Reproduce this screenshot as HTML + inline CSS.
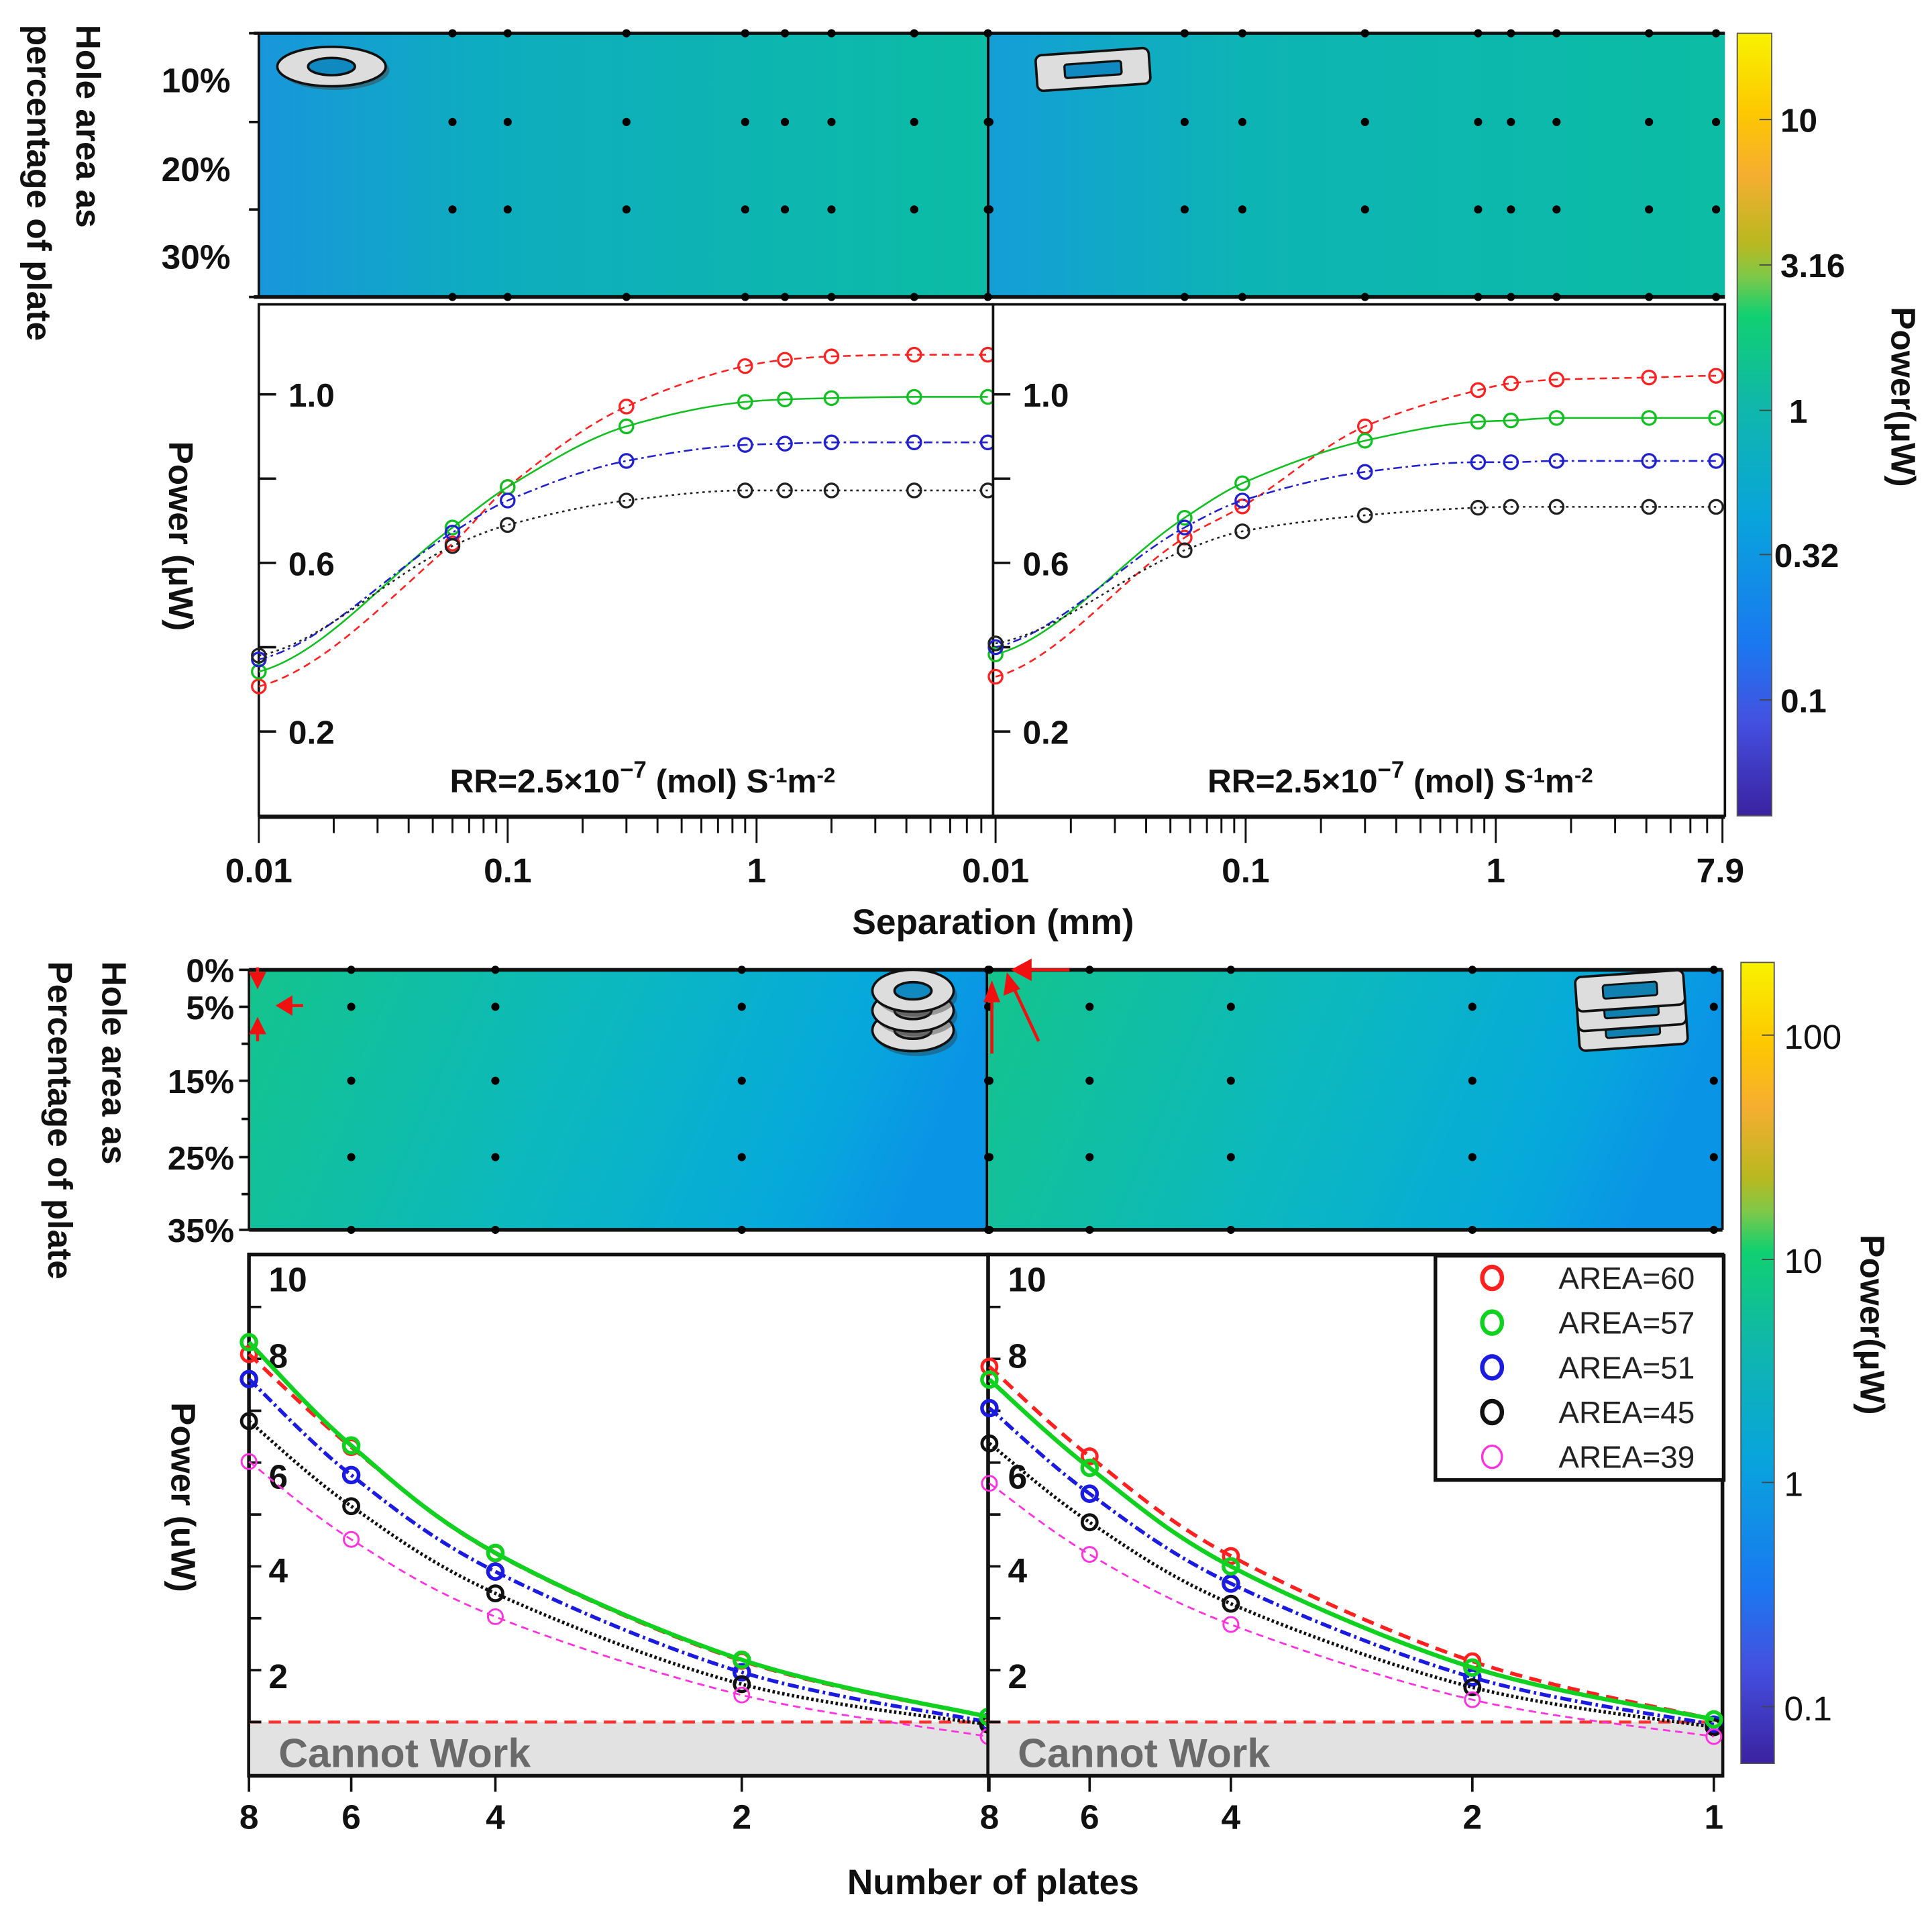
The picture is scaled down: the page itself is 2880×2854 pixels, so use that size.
<!DOCTYPE html>
<html><head><meta charset="utf-8"><style>
html,body{margin:0;padding:0;background:#fff;}
svg{display:block;}
text{font-family:"Liberation Sans",sans-serif;font-weight:bold;}
text.nb{font-weight:normal;}
</style></head><body>
<svg id="fig" xmlns="http://www.w3.org/2000/svg" width="2880" height="2854" viewBox="0 0 1568 1554">
<defs>
<linearGradient id="cbar" x1="0" y1="0" x2="0" y2="1">
<stop offset="0" stop-color="#f8f200"/><stop offset="0.1" stop-color="#fdc800"/><stop offset="0.18" stop-color="#f6ae30"/>
<stop offset="0.27" stop-color="#b8b820"/><stop offset="0.31" stop-color="#80c848"/><stop offset="0.36" stop-color="#10d070"/>
<stop offset="0.47" stop-color="#10b8a8"/><stop offset="0.62" stop-color="#08a4dc"/><stop offset="0.78" stop-color="#1a78f0"/>
<stop offset="0.88" stop-color="#4450e0"/><stop offset="1" stop-color="#3a22a0"/>
</linearGradient>
<linearGradient id="hmTop" x1="0" y1="0" x2="1" y2="0">
<stop offset="0" stop-color="#1896dc"/><stop offset="0.3" stop-color="#0eacc0"/><stop offset="1" stop-color="#0cbca4"/>
</linearGradient>
<linearGradient id="hmTopR" x1="0" y1="0" x2="1" y2="0">
<stop offset="0" stop-color="#149ed8"/><stop offset="0.35" stop-color="#0db4b4"/><stop offset="1" stop-color="#0cbca4"/>
</linearGradient>
<linearGradient id="hmBot" x1="0" y1="0" x2="1" y2="0.15">
<stop offset="0" stop-color="#14c48c"/><stop offset="0.5" stop-color="#0cb8c0"/><stop offset="0.85" stop-color="#06a8dc"/><stop offset="1" stop-color="#0a94e6"/>
</linearGradient>
</defs>
<g id="layer"></g>
</svg>
<script>
// ---------- data ----------
const topXLeft = [0.01,0.06,0.1,0.3,0.9,1.3,2,4.3,8.5];
const topXRight = [0.01,0.057,0.097,0.3,0.85,1.15,1.75,4.1,7.6];
const topLeftRed = [0.307,0.646,0.78,0.971,1.067,1.082,1.09,1.094,1.094];
const topLeftGreen = [0.342,0.684,0.78,0.924,0.982,0.988,0.991,0.994,0.994];
const topLeftBlue = [0.371,0.672,0.748,0.842,0.88,0.883,0.886,0.886,0.886];
const topLeftBlack = [0.38,0.64,0.69,0.748,0.772,0.772,0.772,0.772,0.772];
const topRightRed = [0.33,0.66,0.734,0.924,1.01,1.026,1.035,1.04,1.044];
const topRightGreen = [0.383,0.707,0.789,0.89,0.935,0.938,0.944,0.944,0.944];
const topRightBlue = [0.40,0.684,0.748,0.816,0.839,0.839,0.842,0.842,0.842];
const topRightBlack = [0.409,0.63,0.675,0.713,0.731,0.733,0.733,0.733,0.733];
const topYTicks = [0.2,0.6,1.0];
const topYTickLabels = ["0.2","0.6","1.0"];
const plates = [8,6,4,2,1];
const botLeftRed = [8.09,6.3,4.25,2.18,1.1];
const botLeftGreen = [8.32,6.33,4.26,2.2,1.1];
const botLeftBlue = [7.61,5.76,3.9,1.96,1.0];
const botLeftBlack = [6.8,5.16,3.48,1.73,0.95];
const botLeftPink = [6.02,4.52,3.03,1.52,0.72];
const botRightRed = [7.85,6.12,4.2,2.17,1.05];
const botRightGreen = [7.6,5.9,4.0,2.05,1.05];
const botRightBlue = [7.05,5.4,3.67,1.86,0.95];
const botRightBlack = [6.37,4.85,3.28,1.67,0.9];
const botRightPink = [5.6,4.23,2.88,1.43,0.72];
const botYTickLabels = ["2","4","6","8","10"];
const legendLabels = ["AREA=60","AREA=57","AREA=51","AREA=45","AREA=39"];
const cbarTopLabels = ["10","3.16","1","0.32","0.1"];
const cbarBotLabels = ["100","10","1","0.1"];
const hmTopRows = ["10%","20%","30%"];
const hmBotRows = ["0%","5%","15%","25%","35%"];
const hmBotRowVals = [0,5,15,25,35];

// ---------- helpers ----------
const NS="http://www.w3.org/2000/svg";
const L=document.getElementById('layer');
function mk(tag,attrs,parent){const e=document.createElementNS(NS,tag);for(const k in attrs)e.setAttribute(k,attrs[k]);(parent||L).appendChild(e);return e;}
function txt(s,x,y,size,attrs,parent){const e=mk('text',Object.assign({x:x,y:y,'font-size':size,fill:'#111'},attrs||{}),parent);e.textContent=s;return e;}
function smooth(pts){let d='M'+pts[0][0]+','+pts[0][1];for(let i=0;i<pts.length-1;i++){const p0=pts[i-1]||pts[i],p1=pts[i],p2=pts[i+1],p3=pts[i+2]||p2;
const c1=[p1[0]+(p2[0]-p0[0])/6,p1[1]+(p2[1]-p0[1])/6],c2=[p2[0]-(p3[0]-p1[0])/6,p2[1]-(p3[1]-p1[1])/6];
d+=' C'+c1[0]+','+c1[1]+' '+c2[0]+','+c2[1]+' '+p2[0]+','+p2[1];}return d;}
// S-shaped hermite: flat-ish start tangent
function sCurve(pts){const n=pts.length;const m=[];
  for(let i=0;i<n;i++){if(i==0){const s=(pts[1][1]-pts[0][1])/(pts[1][0]-pts[0][0]);m.push(s*0.35);}
    else if(i==n-1){m.push(0);}
    else{const s1=(pts[i][1]-pts[i-1][1])/(pts[i][0]-pts[i-1][0]),s2=(pts[i+1][1]-pts[i][1])/(pts[i+1][0]-pts[i][0]);
      m.push(s1*s2<=0?0:(2*s1*s2/(s1+s2))*1.0);}}
  // boost second point tangent to make sigmoid
  let d='M'+pts[0][0]+','+pts[0][1];
  for(let i=0;i<n-1;i++){const h=pts[i+1][0]-pts[i][0];
    d+=' C'+(pts[i][0]+h/3)+','+(pts[i][1]+m[i]*h/3)+' '+(pts[i+1][0]-h/3)+','+(pts[i+1][1]-m[i+1]*h/3)+' '+pts[i+1][0]+','+pts[i+1][1];}
  return d;}

// ---------- top scales ----------
const topY = v => 662 - v*342;
const topXL = x => 210 + 202*Math.log10(x/0.01);
const topXR = x => 808 + 203*Math.log10(x/0.01);

let e;
e=mk('rect',{x:210,y:27,width:592,height:214,fill:'url(#hmTop)'});

e=mk('rect',{x:802,y:27,width:598,height:214,fill:'url(#hmTopR)'});

mk('line',{x1:802,y1:27,x2:802,y2:241,stroke:'#000','stroke-width':2});
mk('line',{x1:206,y1:27,x2:1400,y2:27,stroke:'#111','stroke-width':2.5});
mk('line',{x1:206,y1:241,x2:1400,y2:241,stroke:'#111','stroke-width':3});
mk('line',{x1:210,y1:27,x2:210,y2:241,stroke:'#111','stroke-width':2});
[27,99,170,241].forEach(yy=>{mk('line',{x1:202,y1:yy,x2:210,y2:yy,stroke:'#111','stroke-width':2});});
[65,137,208].forEach((yy,i)=>{e=txt(hmTopRows[i],187,yy+10,28,{'text-anchor':'end'});});
const dotRows=[27,99,170,241];
topXLeft.slice(1).forEach((x,i)=>{dotRows.forEach(yy=>{e=mk('circle',{cx:topXL(x),cy:yy,r:3.3,fill:'#000'});});});
topXRight.slice(1).forEach((x,i)=>{dotRows.forEach(yy=>{e=mk('circle',{cx:Math.min(topXR(x),1398),cy:yy,r:3.3,fill:'#000'});});});
[99,170].forEach(yy=>mk('circle',{cx:803,cy:yy,r:3.3,fill:'#000'}));
let g=mk('g',{});
mk('ellipse',{cx:272,cy:57,rx:44,ry:16,fill:'#444',opacity:0.5},g);
mk('ellipse',{cx:269,cy:54,rx:44,ry:16,fill:'#ddd',stroke:'#111','stroke-width':2},g);
mk('ellipse',{cx:269,cy:54,rx:19,ry:7,fill:'#1088c0',stroke:'#111','stroke-width':2},g);
g=mk('g',{transform:'rotate(-4 885 55)'});
mk('rect',{x:841,y:42,width:92,height:29,rx:5,fill:'#ddd',stroke:'#111','stroke-width':2},g);
mk('rect',{x:864,y:51,width:46,height:11,rx:2,fill:'#1088c0',stroke:'#111','stroke-width':1.8},g);

function topPanel(x0,x1,xs,xf,series,side){
  e=mk('rect',{x:x0,y:247,width:x1-x0,height:415,fill:'#fff',stroke:'#111','stroke-width':2});
  
  topYTicks.forEach((v,i)=>{mk('line',{x1:x0,y1:topY(v),x2:x0+14,y2:topY(v),stroke:'#111','stroke-width':2});
    e=txt(topYTickLabels[i],x0+24,topY(v)+10,27);});
  mk('line',{x1:x0,y1:topY(0.8),x2:x0+14,y2:topY(0.8),stroke:'#111','stroke-width':2});
  mk('line',{x1:x0,y1:topY(0.4),x2:x0+14,y2:topY(0.4),stroke:'#111','stroke-width':2});
  const styles=[['#ff2020','6,4'],['#10c020',''],['#2020d0','7,3,2,3'],['#222','2,3']];
  const names=['red','green','blue','black'];
  series.forEach((ys,k)=>{const pts=xs.map((x,i)=>[xf(x),topY(ys[i])]);
    e=mk('path',{d:sCurve(pts),fill:'none',stroke:styles[k][0],'stroke-width':1.4,'stroke-dasharray':styles[k][1]});
    
    pts.forEach(p=>{e=mk('circle',{cx:p[0],cy:p[1],r:5.5,fill:'none',stroke:styles[k][0],'stroke-width':1.8});});});
}
topPanel(210,806,topXLeft,topXL,[topLeftRed,topLeftGreen,topLeftBlue,topLeftBlack],'left');
topPanel(806,1400,topXRight,topXR,[topRightRed,topRightGreen,topRightBlue,topRightBlack],'right');
const rrHTML='RR=2.5×10<tspan dy="-12" font-size="19">−7</tspan><tspan dy="12"> (mol) S</tspan><tspan dy="-8" font-size="17">-1</tspan><tspan dy="8">m</tspan><tspan dy="-8" font-size="17">-2</tspan>';
e=txt('',365,643,27);e.innerHTML=rrHTML;
e=txt('',980,643,27);e.innerHTML=rrHTML;
mk('line',{x1:210,y1:663,x2:1400,y2:663,stroke:'#111','stroke-width':3});
function logTicks(xf,maxv){[0.01,0.1,1].forEach(d=>{for(let m=1;m<10;m++){const v=d*m;if(v>maxv)return;const xx=xf(v);mk('line',{x1:xx,y1:663,x2:xx,y2:m==1?684:676,stroke:'#111','stroke-width':1.6});}});}
logTicks(topXL,8.6);logTicks(topXR,7.95);
mk('line',{x1:1398,y1:663,x2:1398,y2:684,stroke:'#111','stroke-width':1.6});
const xlabs=[['0.01',topXL(0.01)],['0.1',topXL(0.1)],['1',topXL(1)],['0.01',topXR(0.01)],['0.1',topXR(0.1)],['1',topXR(1)],['7.9',topXR(7.9)]];
xlabs.forEach(l=>{e=txt(l[0],l[1],716,28,{'text-anchor':'middle'});});
e=txt('Separation (mm)',806,758,29,{'text-anchor':'middle'});
e=txt('Hole area as',62,20,28,{transform:'rotate(90 62 20)'});
e=txt('percentage of  plate',22,20,28,{transform:'rotate(90 22 20)'});
e=txt('Power (μW)',137,435,28,{'text-anchor':'middle',transform:'rotate(90 137 435)'});
e=mk('rect',{x:1410,y:27,width:28,height:635,fill:'url(#cbar)',stroke:'#555','stroke-width':1});
[97,215,333,450,568].forEach((yy,i)=>{mk('line',{x1:1428,y1:yy,x2:1438,y2:yy,stroke:'#444','stroke-width':1});
  e=txt(cbarTopLabels[i],i==2?1452:(i==3?1440:1445),yy+10,27);});
e=txt('Power(μW)',1535,322,28,{'text-anchor':'middle',transform:'rotate(90 1535 322)'});

// ---------- bottom ----------
const botY = v => 1439.5 - 42.1*v;
const botXL = n => 202 + 200*Math.log2(8/n);
const botXR = n => 803 + 196*Math.log2(8/n);
const hmRowY = p => p==0?787:(p==5?817:(p==15?877:(p==25?939:998)));
e=mk('rect',{x:202,y:787,width:600,height:211,fill:'url(#hmBot)'});
e=mk('rect',{x:802,y:787,width:596,height:211,fill:'url(#hmBot)'});
mk('line',{x1:801,y1:787,x2:801,y2:998,stroke:'#000','stroke-width':2});
mk('line',{x1:202,y1:787,x2:1398,y2:787,stroke:'#111','stroke-width':3});
mk('line',{x1:202,y1:998,x2:1398,y2:998,stroke:'#111','stroke-width':3});
mk('line',{x1:202,y1:787,x2:202,y2:998,stroke:'#111','stroke-width':2});
mk('line',{x1:1398,y1:787,x2:1398,y2:998,stroke:'#111','stroke-width':2});
hmBotRowVals.forEach((p,i)=>{const yy=hmRowY(p);mk('line',{x1:194,y1:yy,x2:202,y2:yy,stroke:'#111','stroke-width':2});
  e=txt(hmBotRows[i],190,yy+10,27,{'text-anchor':'end'});});
[847,908,969].forEach(yy=>mk('line',{x1:196,y1:yy,x2:202,y2:yy,stroke:'#111','stroke-width':2}));
plates.forEach(n=>{hmBotRowVals.forEach(p=>{[botXL(n),botXR(n)].forEach(xx=>{if(n==8&&xx<300)return;e=mk('circle',{cx:Math.min(xx,1397),cy:hmRowY(p),r:3.3,fill:'#000'});});});});
function ringStack(cx,cy){g=mk('g',{});
  [2,1,0].forEach(k=>{const y=cy+k*16;mk('ellipse',{cx:cx+3,cy:y+4,rx:33,ry:17,fill:'#333',opacity:0.4},g);
  mk('ellipse',{cx:cx,cy:y,rx:33,ry:17,fill:'#ddd',stroke:'#111','stroke-width':2},g);
  mk('ellipse',{cx:cx,cy:y,rx:15,ry:7,fill:k==0?'#1088c0':'#888',stroke:'#111','stroke-width':2},g);});}
ringStack(741,804);
function slotStack(cx,cy){g=mk('g',{transform:'rotate(-4 '+cx+' '+cy+')'});
  [2,1,0].forEach(k=>{const y=cy+k*16;mk('rect',{x:cx-44,y:y-14,width:88,height:28,rx:5,fill:'#ddd',stroke:'#111','stroke-width':2},g);
  mk('rect',{x:cx-22,y:y-6,width:44,height:11,rx:2,fill:'#1080b0',stroke:'#111','stroke-width':1.6},g);});}
slotStack(1323,804);
g=mk('g',{stroke:'#f01010','stroke-width':2.5,fill:'#f01010'});
mk('line',{x1:209,y1:785,x2:209,y2:797},g);mk('polygon',{points:'204,790 214,790 209,800'},g);
mk('line',{x1:246,y1:816,x2:232,y2:816},g);mk('polygon',{points:'236,810 236,822 226,816'},g);
mk('line',{x1:209,y1:845,x2:209,y2:832},g);mk('polygon',{points:'204,838 214,838 209,828'},g);
mk('line',{x1:868,y1:787,x2:832,y2:787},g);mk('polygon',{points:'836,780 836,794 823,787'},g);
mk('line',{x1:805,y1:855,x2:805,y2:806},g);mk('polygon',{points:'800,812 810,812 805,799'},g);
mk('line',{x1:843,y1:845,x2:822,y2:800},g);mk('polygon',{points:'816,806 826,802 818,792'},g);

function botPanel(x0,x1,xf,series,side){
  e=mk('rect',{x:x0,y:1018,width:x1-x0,height:423,fill:'#fff',stroke:'#111','stroke-width':3});
  
  e=mk('rect',{x:x0+1,y:botY(1),width:x1-x0-2,height:1441-botY(1),fill:'#e2e2e2'});
  e=txt('Cannot Work',x0+24,1434,33,{fill:'#6a6a6a'});
  mk('line',{x1:x0,y1:botY(1),x2:x1,y2:botY(1),stroke:'#ff3030','stroke-width':2.4,'stroke-dasharray':'10,6'});
  for(let v=1;v<=9;v++)mk('line',{x1:x0,y1:botY(v),x2:x0+10,y2:botY(v),stroke:'#111','stroke-width':2});
  botYTickLabels.forEach((s,i)=>{const yy=[1358,1272,1196,1098,1036][i];
    e=txt(s,x0+16,yy+12,28);});
  const st=[['#ff2020','10,6',3,2.6],['#10d020','',3.5,3],['#1a1ae0','9,3,2,3',3,3],['#111','2,2',2.8,2.6],['#ff30e0','6,4',1.5,1.6]];
  const names=['red','green','blue','black','pink'];
  [0,2,3,4,1].forEach(k=>{const ys=series[k];const pts=plates.map((n,i)=>[xf(n),botY(ys[i])]);
    e=mk('path',{d:smooth(pts),fill:'none',stroke:st[k][0],'stroke-width':st[k][2],'stroke-dasharray':st[k][1]});
    
    pts.forEach(p=>{e=mk('circle',{cx:p[0],cy:p[1],r:6,fill:'none',stroke:st[k][0],'stroke-width':st[k][3]});});});
}
botPanel(202,802,botXL,[botLeftRed,botLeftGreen,botLeftBlue,botLeftBlack,botLeftPink],'left');
botPanel(802,1398,botXR,[botRightRed,botRightGreen,botRightBlue,botRightBlack,botRightPink],'right');
mk('line',{x1:202,y1:1441,x2:1398,y2:1441,stroke:'#111','stroke-width':3});
plates.forEach(n=>{[[botXL(n),'L'],[botXR(n),'R']].forEach(a=>{const xx=a[0];
  mk('line',{x1:xx,y1:1441,x2:xx,y2:1454,stroke:'#111','stroke-width':2});
  if(a[1]=='L'&&n==1)return;
  e=txt(String(n),xx,1484,28,{'text-anchor':'middle'});});});
g=mk('g',{});
mk('rect',{x:1165,y:1019,width:234,height:182,fill:'#fff',stroke:'#111','stroke-width':3},g);
const legCols=['#ff2020','#10d020','#1a1ae0','#111','#ff30e0'];
legendLabels.forEach((s,i)=>{const yy=1037+i*36.3;
  e=mk('ellipse',{cx:1211,cy:yy,rx:8,ry:9,fill:'none',stroke:legCols[i],'stroke-width':i==4?1.8:3.5},g);
  e=txt(s,1265,yy+9,25,{class:'nb',fill:'#222'},g);});
e=txt('Number of plates',806,1537,29,{'text-anchor':'middle'});
e=txt('Hole area as',83,780,28,{transform:'rotate(90 83 780)'});
e=txt('Percentage of  plate',39,780,28,{transform:'rotate(90 39 780)'});
e=txt('Power (uW)',139,1215,28,{'text-anchor':'middle',transform:'rotate(90 139 1215)'});
e=mk('rect',{x:1413,y:781,width:27,height:650,fill:'url(#cbar)',stroke:'#555','stroke-width':1});
[840,1022,1203,1385].forEach((yy,i)=>{mk('line',{x1:1430,y1:yy,x2:1440,y2:yy,stroke:'#444','stroke-width':1});
  e=txt(cbarBotLabels[i],1448,yy+11,28,{class:'nb'});});
e=txt('Power(μW)',1510,1075,28,{'text-anchor':'middle',transform:'rotate(90 1510 1075)'});
</script>
</body></html>
